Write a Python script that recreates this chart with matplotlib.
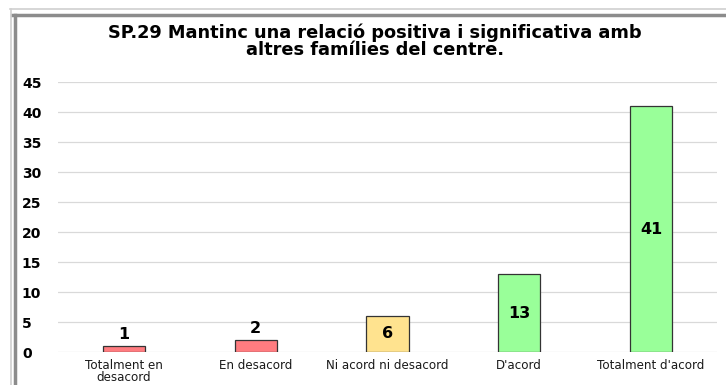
import matplotlib.pyplot as plt
from matplotlib.lines import Line2D

# Survey answers for SP.29
categories = ["Totalment en\ndesacord", "En desacord", "Ni acord ni desacord", "D'acord", "Totalment d'acord"]
counts = [1, 2, 6, 13, 41]
bar_colors = ["#FF7C80", "#FF7C80", "#FFE38F", "#99FF99", "#99FF99"]
yticks = [0, 5, 10, 15, 20, 25, 30, 35, 40, 45]
title_lines = ["SP.29 Mantinc una relació positiva i significativa amb",
               "altres famílies del centre."]

plt.rcParams['font.family'] = ['DejaVu Sans']

fig = plt.figure(figsize=(7.26, 3.85), dpi=100)
ax = fig.add_axes([58 / 726, 1 - 352 / 385, (717 - 58) / 726, (352 - 82) / 385])

x = list(range(len(categories)))
bars = ax.bar(x, counts, width=0.32, color=bar_colors, edgecolor="#333333", linewidth=0.9, zorder=3)

# value labels: inside the bar when tall enough, else above it
for b, v in zip(bars, counts):
    cx = b.get_x() + b.get_width() / 2
    if v >= 5:
        ax.text(cx, v / 2, str(v), ha="center", va="center", fontsize=11.5, fontweight="bold", zorder=4)
    else:
        ax.text(cx, v + 0.6, str(v), ha="center", va="bottom", fontsize=11.5, fontweight="bold", zorder=4)

ax.set_xlim(-0.5, len(categories) - 0.5)
ax.set_ylim(0, 45)
ax.set_yticks(yticks)
ax.set_yticklabels([str(t) for t in yticks], fontsize=10, fontweight="bold")
ax.set_xticks(x)
ax.set_xticklabels(categories, fontsize=8.6, color="#1A1A1A", linespacing=0.95)
ax.tick_params(axis="both", length=0)
ax.tick_params(axis="y", pad=26)
ax.tick_params(axis="x", pad=5)
for lbl in ax.get_yticklabels():
    lbl.set_horizontalalignment("left")

ax.grid(axis="y", color="#D9D9D9", linewidth=0.9, zorder=0)
for s in ax.spines.values():
    s.set_visible(False)

fig.text(375 / 726, 1 - 33 / 385, title_lines[0], ha="center", va="center", fontsize=12.8, fontweight="bold")
fig.text(375 / 726, 1 - 50 / 385, title_lines[1], ha="center", va="center", fontsize=12.8, fontweight="bold")

# outer frame (top and left edges visible)
fig.add_artist(Line2D([12 / 726, 1], [1 - 14.5 / 385, 1 - 14.5 / 385], color="#8C8C8C", linewidth=2.5))
fig.add_artist(Line2D([10 / 726, 1], [1 - 9 / 385, 1 - 9 / 385], color="#D0D0D0", linewidth=1.2))
fig.add_artist(Line2D([15 / 726, 15 / 726], [0, 1 - 14.5 / 385], color="#8C8C8C", linewidth=2.5))
fig.add_artist(Line2D([11 / 726, 11 / 726], [0, 1 - 9 / 385], color="#D0D0D0", linewidth=1.2))

fig.savefig("out.png", dpi=100)
